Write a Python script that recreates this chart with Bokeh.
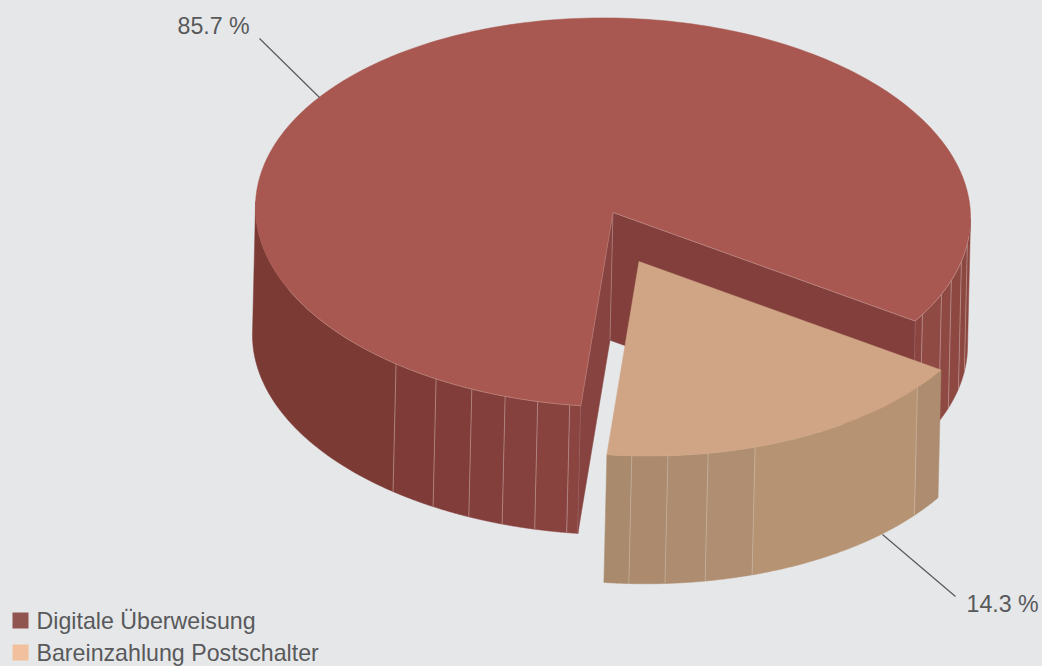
import numpy as np
from bokeh.plotting import figure
from bokeh.embed import file_html
from bokeh.resources import INLINE
from bokeh.core.properties import value

# ---- data ----
categories = ["Digitale Überweisung", "Bareinzahlung Postschalter"]
shares = [85.7, 14.3]
share_labels = ["85.7 %", "14.3 %"]

# ---- style ----
BG = "#e6e7e9"
TXT = "#58595b"
FONT = "Liberation Sans"
FSIZE = "23.2px"
legend_colors = ["#8f554e", "#f2c09c"]
top_colors = ["#a85850", "#d0a585"]
cut_colors = ["#823f3c", "#864340"]
main_seam = "#d8bcb8"
slice_seam = "#d8c8b8"

# ---- projection of the 3D pie ----
CX, CY = 612.5, 212.0
A, B = 357.6, 194.5
PHI = np.radians(1.2)
DEPTH = (-3.0, 127.7)
EXPLODE = (26.0, 49.0)
START = 31.7      # screen-angle where the small slice starts
FORESHORTEN = 1.22


def pt(t, off=(0.0, 0.0)):
    t = np.radians(np.asarray(t, dtype=float))
    X, Y = A * np.cos(t), B * np.sin(t)
    return (CX + off[0] + X * np.cos(PHI) - Y * np.sin(PHI),
            CY + off[1] + X * np.sin(PHI) + Y * np.cos(PHI))


sweep_small = shares[1] * 3.6 * FORESHORTEN
END = START + sweep_small

# facet walls: fractions of the sweep (small slice), degrees beyond the cut (main)
main_left_steps = [0, 1.8, 7.0, 12.4, 18.1, 24.5, 32.2, 86.5]
main_left_cols = ["#8a4541", "#88433f", "#85413d", "#833f3c", "#803d39", "#7e3b37", "#7c3a35"]
main_right_steps = [0, 2.3, 9.1, 13.5, 19.4, 24.7, 32.0]
main_right_cols = ["#8a4541", "#8f4a44", "#8e4943", "#8d4842", "#8c4741", "#8b4640"]
slice_steps = [0, 6.5, 38.7, 46.5, 53.0, 58.8, 62.8]
slice_cols = ["#ad8c6f", "#b59373", "#b08e71", "#ad8c6f", "#ab8a6d", "#a98a6c"]


def facet(t0, t1, off):
    ts = np.linspace(t0, t1, 48)
    d = (off[0] + DEPTH[0], off[1] + DEPTH[1])
    xt, yt = pt(ts, off)
    xb, yb = pt(ts[::-1], d)
    return list(xt) + list(xb), list(yt) + list(yb)


p = figure(width=1042, height=666, x_range=(0, 1042), y_range=(666, 0),
           output_backend="svg", toolbar_location=None,
           min_border=0, outline_line_color=None,
           background_fill_color=BG, border_fill_color=BG)
p.axis.visible = False
p.grid.visible = False

# main wedge: outer walls
xs, ys, cs = [], [], []
seam_x, seam_y = [], []
main_off = (0.0, 0.0)
for i, c in enumerate(main_left_cols):
    x, y = facet(END + main_left_steps[i], END + main_left_steps[i + 1], main_off)
    xs.append(x); ys.append(y); cs.append(c)
for i, c in enumerate(main_right_cols):
    x, y = facet(START - main_right_steps[i], START - main_right_steps[i + 1], main_off)
    xs.append(x); ys.append(y); cs.append(c)
p.patches(xs, ys, fill_color=cs, line_color=cs, line_width=0.5)

for s in main_left_steps[:-1]:
    x0, y0 = pt(END + s); x1, y1 = pt(END + s, DEPTH)
    seam_x.append([float(x0), float(x1)]); seam_y.append([float(y0), float(y1)])
for s in main_right_steps[:-1]:
    x0, y0 = pt(START - s); x1, y1 = pt(START - s, DEPTH)
    seam_x.append([float(x0), float(x1)]); seam_y.append([float(y0), float(y1)])
p.multi_line(seam_x, seam_y, line_color=main_seam, line_width=1, line_alpha=0.5)

# main wedge: cut walls
for t, c in zip([START, END], cut_colors):
    x0, y0 = pt(t)
    p.patch([CX, float(x0), float(x0) + DEPTH[0], CX + DEPTH[0]],
            [CY, float(y0), float(y0) + DEPTH[1], CY + DEPTH[1]],
            fill_color=c, line_color=c, line_width=0.5)
p.line([CX, CX + DEPTH[0]], [CY, CY + DEPTH[1]], line_color=main_seam, line_alpha=0.4, line_width=1)

# main wedge: top
ts = np.linspace(END, START + 360, 240)
x, y = pt(ts)
p.patch([CX] + list(x), [CY] + list(y), fill_color=top_colors[0], line_color=top_colors[0], line_width=0.5)
x2, y2 = pt(np.linspace(END, END + 60, 60))
p.line(list(x2), list(y2), line_color=main_seam, line_alpha=0.4, line_width=0.8)
x3, y3 = pt(np.linspace(START - 27, START, 30))
p.line(list(x3) + [CX], list(y3) + [CY], line_color=main_seam, line_alpha=0.5, line_width=0.8)
x4, y4 = pt(END)
p.line([CX, float(x4)], [CY, float(y4)], line_color=main_seam, line_alpha=0.3, line_width=0.8)

# small slice: outer walls and top
xs, ys, cs = [], [], []
seam_x, seam_y = [], []
for i, c in enumerate(slice_cols):
    x, y = facet(START + slice_steps[i], START + slice_steps[i + 1], EXPLODE)
    xs.append(x); ys.append(y); cs.append(c)
p.patches(xs, ys, fill_color=cs, line_color=cs, line_width=0.5)
d = (EXPLODE[0] + DEPTH[0], EXPLODE[1] + DEPTH[1])
for s in slice_steps[1:-1]:
    x0, y0 = pt(START + s, EXPLODE); x1, y1 = pt(START + s, d)
    seam_x.append([float(x0), float(x1)]); seam_y.append([float(y0), float(y1)])
p.multi_line(seam_x, seam_y, line_color=slice_seam, line_width=1, line_alpha=0.5)

ts = np.linspace(START, END, 60)
x, y = pt(ts, EXPLODE)
p.patch([CX + EXPLODE[0]] + list(x), [CY + EXPLODE[1]] + list(y),
        fill_color=top_colors[1], line_color=top_colors[1], line_width=0.5)

# leaders and value labels
p.line([259, 319], [38, 97], line_color=TXT, line_width=1.2)
p.line([882, 955], [534, 596], line_color=TXT, line_width=1.2)
p.text([177], [25], text=[share_labels[0]], text_font=value(FONT), text_font_size=FSIZE,
       text_color=TXT, text_align="left", text_baseline="middle")
p.text([966], [603], text=[share_labels[1]], text_font=value(FONT), text_font_size=FSIZE,
       text_color=TXT, text_align="left", text_baseline="middle")

# legend
for i, (cat, col) in enumerate(zip(categories, legend_colors)):
    yc = 620 + 32 * i
    p.quad(left=[12], right=[28], top=[yc - 8], bottom=[yc + 8], fill_color=col, line_color=None)
    p.text([36], [yc], text=[cat], text_font=value(FONT), text_font_size=FSIZE,
           text_color=TXT, text_align="left", text_baseline="middle")

html = file_html(p, INLINE)
html = html.replace("<head>", "<head><style>html,body{margin:0;padding:0;overflow:hidden;background:%s}</style>" % BG, 1)
open("out.html", "w").write(html)
